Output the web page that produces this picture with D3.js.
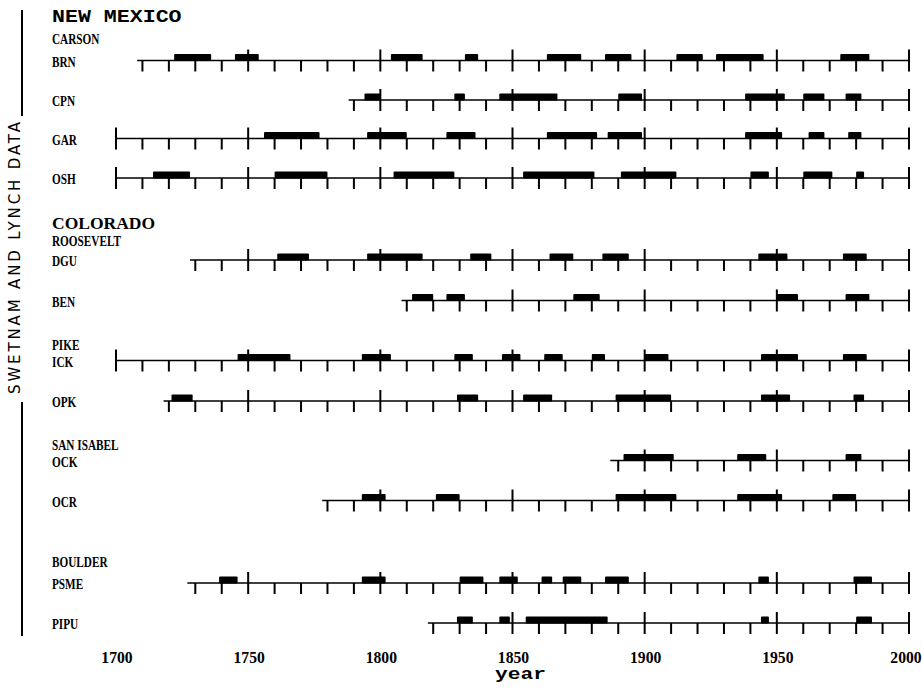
<!DOCTYPE html>
<html>
<head>
<meta charset="utf-8">
<script src="https://cdn.jsdelivr.net/npm/d3@7"></script>
<style>
body { margin: 0; background: #fff; }
</style>
</head>
<body>
<script>
// site codes, top to bottom
var sites = ["BRN", "CPN", "GAR", "OSH", "DGU", "BEN", "ICK", "OPK", "OCK", "OCR", "PSME", "PIPU"];
// first year of each tree-ring record
var recordStart = [1708, 1788, 1700, 1700, 1728, 1808, 1700, 1718, 1887, 1778, 1727, 1818];
var recordEnd = 2000;

// outbreak periods [from, to] per site
var brn = [[1722, 1736], [1745, 1754], [1804, 1816], [1832, 1837], [1863, 1876], [1885, 1895], [1912, 1922], [1927, 1945], [1974, 1985]];
var cpn = [[1794, 1800], [1828, 1832], [1845, 1867], [1890, 1899], [1938, 1953], [1960, 1968], [1976, 1982]];
var gar = [[1756, 1777], [1795, 1810], [1825, 1836], [1863, 1882], [1886, 1899], [1938, 1952], [1962, 1968], [1977, 1982]];
var osh = [[1714, 1728], [1760, 1780], [1805, 1828], [1854, 1881], [1891, 1912], [1940, 1947], [1960, 1971], [1980, 1983]];
var dgu = [[1761, 1773], [1795, 1816], [1834, 1842], [1864, 1873], [1884, 1894], [1943, 1954], [1975, 1984]];
var ben = [[1812, 1820], [1825, 1832], [1873, 1883], [1950, 1958], [1976, 1985]];
var ick = [[1746, 1766], [1793, 1804], [1828, 1835], [1846, 1853], [1862, 1869], [1880, 1885], [1900, 1909], [1944, 1958], [1975, 1984]];
var opk = [[1721, 1729], [1829, 1837], [1854, 1865], [1889, 1910], [1944, 1955], [1979, 1983]];
var ock = [[1892, 1911], [1935, 1946], [1976, 1982]];
var ocr = [[1793, 1802], [1821, 1830], [1889, 1912], [1935, 1952], [1971, 1980]];
var psme = [[1739, 1746], [1793, 1802], [1830, 1839], [1845, 1852], [1861, 1865], [1869, 1876], [1885, 1894], [1943, 1947], [1979, 1986]];
var pipu = [[1829, 1835], [1845, 1849], [1855, 1886], [1944, 1947], [1980, 1986]];
var outbreaks = [brn, cpn, gar, osh, dgu, ben, ick, opk, ock, ocr, psme, pipu];

var states = ["NEW MEXICO", "COLORADO"];
var forests = ["CARSON", "ROOSEVELT", "PIKE", "SAN ISABEL", "BOULDER"];
var yearTicks = [1700, 1750, 1800, 1850, 1900, 1950, 2000];

// layout
var width = 922, height = 690;
var rowY = [60.5, 100, 138.5, 178, 260, 300.5, 360.5, 401, 460.5, 500.5, 583, 623];
var stateY = [22, 229];
var forestY = [44, 246, 350, 450, 567];
var labelX = 52;

var svg = d3.select("body").append("svg")
  .attr("width", width)
  .attr("height", height);

var x = d3.scaleLinear().domain([1700, 2000]).range([116, 909]);

function squeezed(sel, px, py, sx) {
  return sel.attr("transform", "translate(" + px + "," + py + ") scale(" + sx + ",1)");
}

// side title
svg.append("text")
  .attr("transform", "translate(20,258) rotate(-90)")
  .attr("text-anchor", "middle")
  .attr("font-family", "DejaVu Sans")
  .attr("font-size", 15)
  .attr("textLength", 272)
  .attr("lengthAdjust", "spacing")
  .text("SWETNAM AND LYNCH DATA");
svg.append("line").attr("x1", 22).attr("x2", 22).attr("y1", 10).attr("y2", 116)
  .attr("stroke", "#000").attr("stroke-width", 2);
svg.append("line").attr("x1", 22).attr("x2", 22).attr("y1", 402).attr("y2", 636)
  .attr("stroke", "#000").attr("stroke-width", 2);

// state headings
svg.selectAll("text.state")
  .data(states)
  .enter().append("text")
    .attr("class", "state")
    .attr("font-family", "Liberation Mono")
    .attr("font-weight", "bold")
    .attr("font-size", 18)
    .each(function(d, i) {
      if (i == 0) squeezed(d3.select(this), labelX, stateY[i], 1.2);
      else d3.select(this).attr("font-family", "Liberation Serif").attr("font-size", 17.5)
        .attr("transform", "translate(" + labelX + "," + stateY[i] + ")");
    })
    .text(function(d) { return d; });

// forest headings
svg.selectAll("text.forest")
  .data(forests)
  .enter().append("text")
    .attr("class", "forest")
    .attr("font-family", "Liberation Serif")
    .attr("font-weight", "bold")
    .attr("font-size", 15)
    .each(function(d, i) { squeezed(d3.select(this), labelX, forestY[i], 0.75); })
    .text(function(d) { return d; });

// one group per site
var row = svg.selectAll("g.row")
  .data(sites)
  .enter().append("g")
    .attr("class", "row")
    .attr("transform", function(d, i) { return "translate(0," + rowY[i] + ")"; });

row.append("text")
  .attr("font-family", "Liberation Serif")
  .attr("font-weight", "bold")
  .attr("font-size", 15)
  .each(function(d) { squeezed(d3.select(this), labelX, 6, 0.75); })
  .text(function(d) { return d; });

row.append("line")
  .attr("x1", function(d, i) { return x(recordStart[i]); })
  .attr("x2", x(recordEnd))
  .attr("stroke", "#000")
  .attr("stroke-width", 1.6);

row.each(function(d, i) {
  var g = d3.select(this);
  var ticks = d3.range(Math.ceil(recordStart[i] / 10) * 10, recordEnd + 1, 10);
  g.selectAll("line.tick")
    .data(ticks)
    .enter().append("line")
      .attr("class", "tick")
      .attr("x1", function(t) { return x(t); })
      .attr("x2", function(t) { return x(t); })
      .attr("y1", function(t) { return t % 50 == 0 ? -11 : 0; })
      .attr("y2", 11)
      .attr("stroke", "#000")
      .attr("stroke-width", 2);
  g.selectAll("rect")
    .data(outbreaks[i])
    .enter().append("rect")
      .attr("x", function(p) { return x(p[0]); })
      .attr("width", function(p) { return x(p[1]) - x(p[0]); })
      .attr("y", -6.5)
      .attr("height", 7)
      .attr("rx", 1)
      .attr("fill", "#000");
});

// year axis
var axis = svg.append("g")
  .attr("transform", "translate(0,663)")
  .call(d3.axisBottom(x).tickValues(yearTicks).tickFormat(d3.format("d")).tickSize(0));
axis.select(".domain").remove();
axis.selectAll(".tick")
  .attr("transform", function(t) { return "translate(" + (t == 2000 ? x(t) - 3 : x(t) + 1) + ",0) scale(0.92,1)"; });
axis.selectAll("text")
  .attr("y", 0)
  .attr("dy", 0)
  .attr("fill", "#000")
  .attr("font-family", "Liberation Serif")
  .attr("font-weight", "bold")
  .attr("font-size", 17);

svg.append("text")
  .attr("text-anchor", "middle")
  .attr("font-family", "Liberation Mono")
  .attr("font-weight", "bold")
  .attr("font-size", 17)
  .attr("transform", "translate(" + (x(1850) + 8) + ",679) scale(1.25,1)")
  .text("year");
</script>
</body>
</html>
